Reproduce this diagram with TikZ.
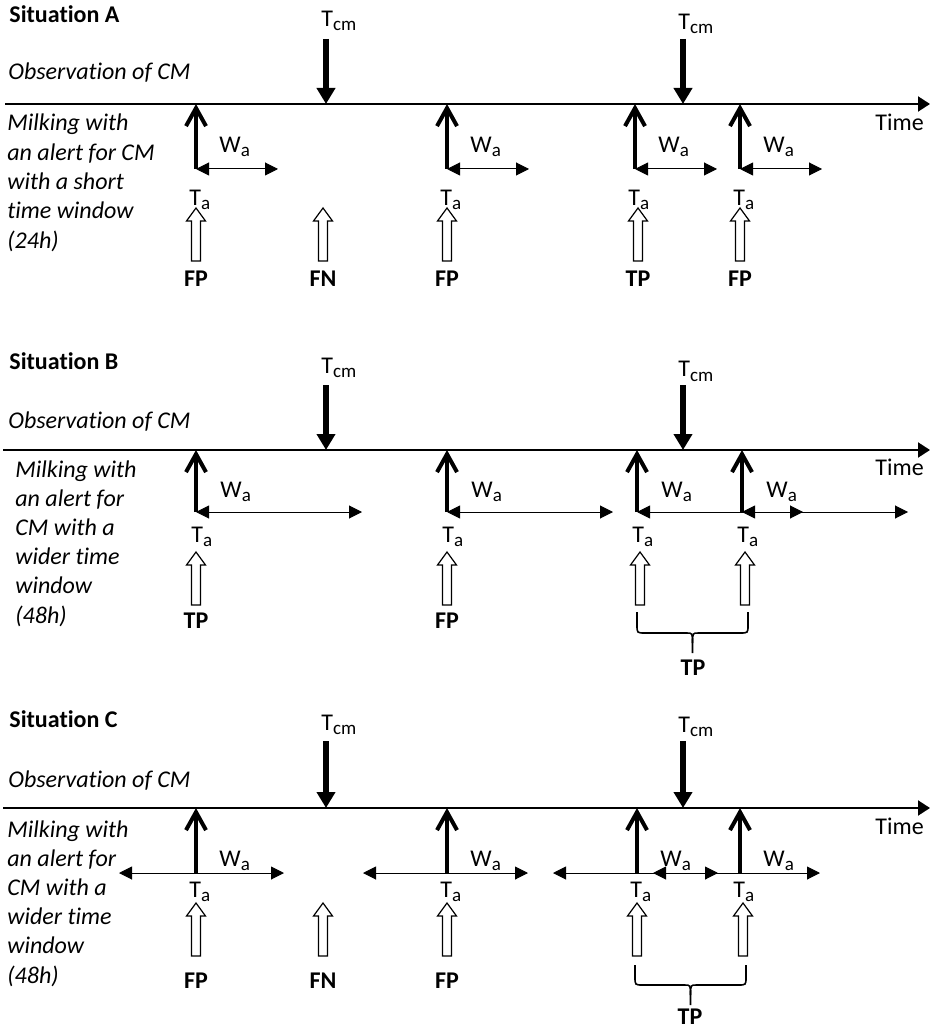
\documentclass[tikz,border=0pt]{standalone}
\usepackage{fontspec}
\setmainfont{Carlito}[Ligatures=NoCommon]
\usetikzlibrary{arrows.meta,calc}
\newcommand{\lowidx}[1]{\raisebox{-2pt}{\fontsize{9.5}{10}\selectfont #1}}
\newcommand{\hollowup}[1]{%
  \draw[line width=0.6pt,fill=white] (#1) -- ++(9.5,13) -- ++(-5,0) -- ++(0,40) -- ++(-9,0) -- ++(0,-40) -- ++(-5,0) -- cycle;
}
\newcommand{\tpbrace}[4]{%
  \pgfmathsetmacro{\bmid}{(#1+#2)/2}
  \draw[line width=0.8pt] (#1,#3) -- (#1,#4-8) .. controls (#1,#4) .. (#1+8,#4) -- (\bmid-6,#4) .. controls (\bmid,#4) .. (\bmid,#4+10) -- (\bmid,#4+20);
  \draw[line width=0.8pt] (#2,#3) -- (#2,#4-8) .. controls (#2,#4) .. (#2-8,#4) -- (\bmid+6,#4) .. controls (\bmid,#4) .. (\bmid,#4+10);
}

\begin{document}
\fontsize{12}{14.4}\selectfont
\begin{tikzpicture}[x=0.5pt, y=-0.5pt, >=Latex]
\tikzset{timeline/.style={line width=1pt, -{Triangle[length=6pt,width=7.5pt]}},
  obs/.style={line width=3pt, -{Triangle[length=8pt,width=9pt]}},
  alarm/.style={line width=2pt, -{Straight Barb[length=9pt,width=10pt]}},
  wnd/.style={line width=0.5pt, {Triangle[length=6.5pt,width=6.5pt]}-{Triangle[length=6.5pt,width=6.5pt]}},
  lbl/.style={inner sep=0pt, anchor=base west},
  res/.style={inner sep=0pt, anchor=base, font=\bfseries}}
\useasboundingbox (0,0) rectangle (930,1031);

% ---------------- situation A ----------------
\node[lbl, font=\bfseries] (Asit) at (9,23) {Situation A};
\node[lbl, font=\itshape] (Aobs) at (8,80) {Observation of CM};
\coordinate (Abeg) at (5,104);
\coordinate (Aend) at (930,104);
\draw[timeline] (Abeg) -- (Aend);
\node[lbl] (Atime) at (875,131) {Time};
\foreach \t [count=\i] in {Milking with,an alert for CM,with a short,time window,(24h)}
  \node[lbl, font=\itshape] (Amilk\i) at (7,{131+29.3*(\i-1)}) {\t};

% observed CM
\foreach \x/\yl [count=\i] in {326/27,683/30}{
  \node[lbl] (Atcm\i) at (\x-5,\yl) {T\lowidx{cm}};
  \coordinate (Acm\i) at (\x,39);
  \coordinate (Acx\i) at (\x,104);
  \draw[obs] (Acm\i) -- (Acx\i);
}

% alerts, 24h window
\foreach \x [count=\i] in {196,447,635,740}{
  \coordinate (Aax\i) at (\x,104);
  \coordinate (Alo\i) at (\x,169);
  \coordinate (Awe\i) at (\x+82,169);
  \draw[wnd] (Alo\i) -- (Awe\i);
  \draw[alarm] (Alo\i) -- (Aax\i);
  \node[lbl] (Awa\i) at (\x+23,153) {W\lowidx{a}};
  \node[lbl] (Ata\i) at (\x-7,206) {T\lowidx{a}};
}

% outcome
\foreach \x/\lab [count=\i] in {196/FP,323/FN,447/FP,638/TP,740/FP}{
  \coordinate (Ahl\i) at (\x,208);
  \hollowup{Ahl\i}
  \node[res] (Ares\i) at (\x,287) {\lab};
}

% ---------------- situation B ----------------
\node[lbl, font=\bfseries] (Bsit) at (9,370) {Situation B};
\node[lbl, font=\itshape] (Bobs) at (8,428) {Observation of CM};
\coordinate (Bbeg) at (3,450);
\coordinate (Bend) at (930,450);
\draw[timeline] (Bbeg) -- (Bend);
\node[lbl] (Btime) at (875,475) {Time};
\foreach \t [count=\i] in {Milking with,an alert for,CM with a,wider time,window,(48h)}
  \node[lbl, font=\itshape] (Bmilk\i) at (15,{477+29.2*(\i-1)}) {\t};

% observed CM
\foreach \x/\yl [count=\i] in {326/373,683/377}{
  \node[lbl] (Btcm\i) at (\x-5,\yl) {T\lowidx{cm}};
  \coordinate (Bcm\i) at (\x,385);
  \coordinate (Bcx\i) at (\x,450);
  \draw[obs] (Bcm\i) -- (Bcx\i);
}

% alerts, 48h window
\foreach \x [count=\i] in {196,447,637,742}{
  \coordinate (Bax\i) at (\x,450);
  \coordinate (Blo\i) at (\x,512);
  \coordinate (Bwe\i) at (\x+166,512);
  \draw[wnd] (Blo\i) -- (Bwe\i);
  \draw[alarm] (Blo\i) -- (Bax\i);
  \node[lbl] (Bwa\i) at (\x+24,497) {W\lowidx{a}};
  \node[lbl] (Bta\i) at (\x-5,542) {T\lowidx{a}};
}

% outcome
\foreach \x/\lab [count=\i] in {196/TP,447/FP,640/,745/}{
  \coordinate (Bhl\i) at (\x,552);
  \hollowup{Bhl\i}
  \node[res] (Bres\i) at (\x,628) {\lab};
}
\tpbrace{637}{748}{612}{633}
\node[res] (Btp) at (693,675) {TP};

% ---------------- situation C ----------------
\node[lbl, font=\bfseries] (Csit) at (9,727) {Situation C};
\node[lbl, font=\itshape] (Cobs) at (8,787) {Observation of CM};
\coordinate (Cbeg) at (3,808);
\coordinate (Cend) at (930,808);
\draw[timeline] (Cbeg) -- (Cend);
\node[lbl] (Ctime) at (875,834) {Time};
\foreach \t [count=\i] in {Milking with,an alert for,CM with a,wider time,window,(48h)}
  \node[lbl, font=\itshape] (Cmilk\i) at (7,{837+29.2*(\i-1)}) {\t};

% observed CM
\foreach \x/\yl [count=\i] in {326/730,683/732}{
  \node[lbl] (Ctcm\i) at (\x-5,\yl) {T\lowidx{cm}};
  \coordinate (Ccm\i) at (\x,741);
  \coordinate (Ccx\i) at (\x,808);
  \draw[obs] (Ccm\i) -- (Ccx\i);
}

% alerts, 48h window centred on the alert
\foreach \x/\wl/\wr [count=\i] in {196/119/284,447/363/528,637/553/718,740/653/820}{
  \coordinate (Cax\i) at (\x,808);
  \coordinate (Clo\i) at (\x,873);
  \coordinate (Cwb\i) at (\wl,873);
  \coordinate (Cwe\i) at (\wr,873);
  \draw[wnd] (Cwb\i) -- (Cwe\i);
  \draw[alarm] (Clo\i) -- (Cax\i);
  \node[lbl] (Cwa\i) at (\x+23,866) {W\lowidx{a}};
  \node[lbl] (Cta\i) at (\x-7,897) {T\lowidx{a}};
}

% outcome
\foreach \x/\lab [count=\i] in {196/FP,323/FN,447/FP,637/,743/}{
  \coordinate (Chl\i) at (\x,903);
  \hollowup{Chl\i}
  \node[res] (Cres\i) at (\x,988) {\lab};
}
\tpbrace{635}{746}{965}{985}
\node[res] (Ctp) at (690,1024) {TP};
\end{tikzpicture}
\end{document}
